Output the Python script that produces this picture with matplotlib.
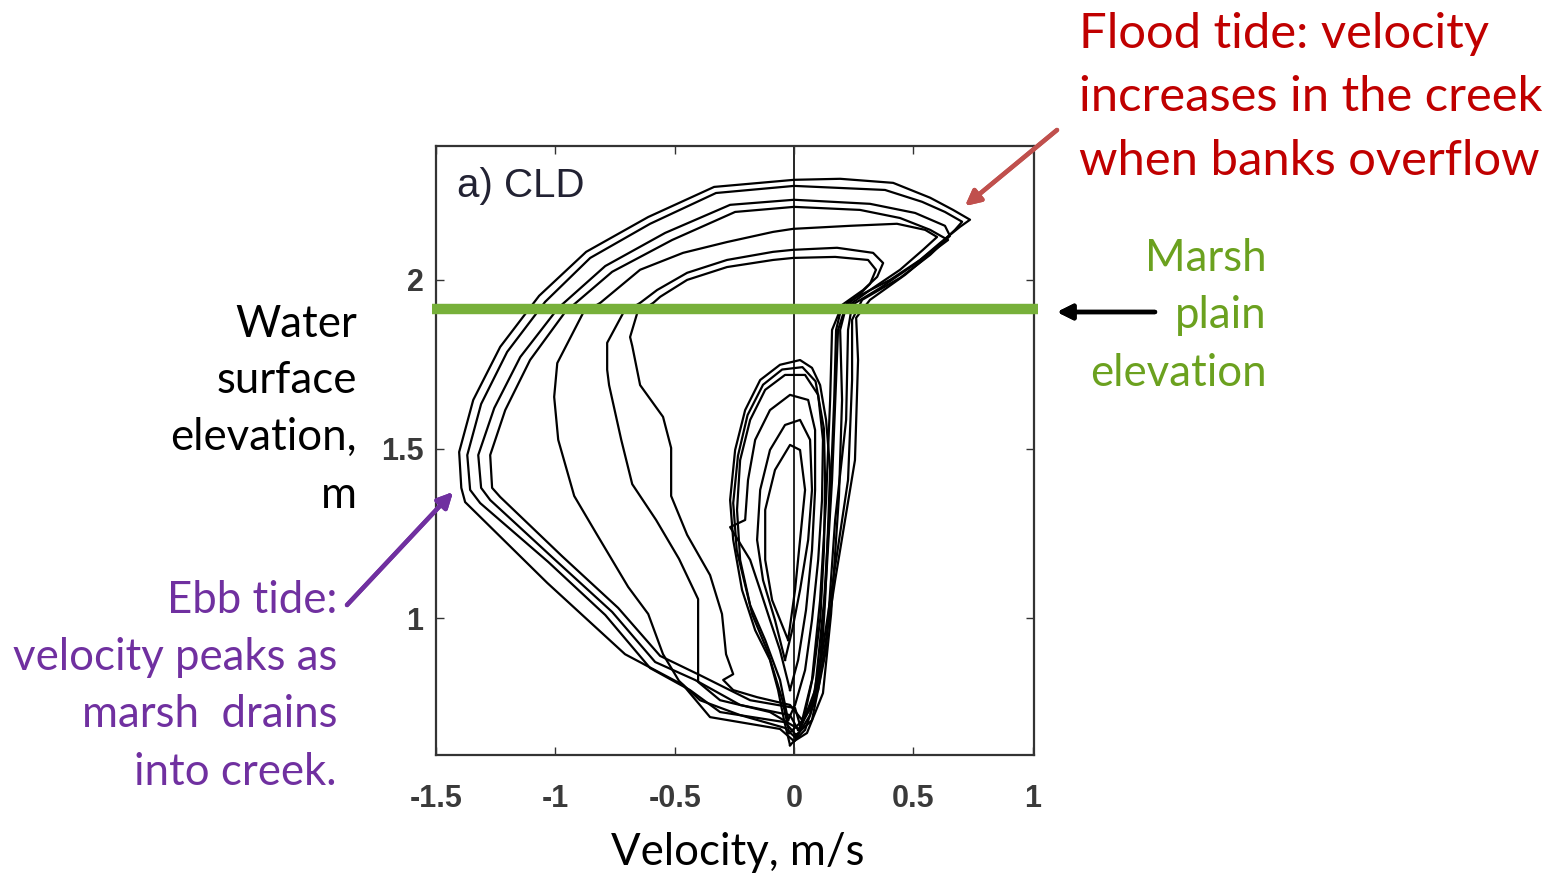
import matplotlib.pyplot as plt

W, H = 1568, 873  # output size in pixels (dpi 100)

X_TICKS = [-1.5, -1, -0.5, 0, 0.5, 1]
X_TICK_LABELS = ["-1.5", "-1", "-0.5", "0", "0.5", "1"]
Y_TICKS = [1, 1.5, 2]
Y_TICK_LABELS = ["1", "1.5", "2"]
MARSH_PLAIN = 1.915  # m, marsh plain elevation

# --- spring tides: big loops that flood the marsh plain --------------------
spring_1_vel = [0, 0.054, 0.121, 0.155, 0.188, 0.201, 0.193, 0.222, 0.264, 0.402,
                0.528, 0.611, 0.695, 0.737, 0.666, 0.570, 0.415, 0.193, 0, -0.335,
                -0.611, -0.871, -1.068, -1.231, -1.344, -1.403, -1.394, -1.378,
                -1.034, -0.708, -0.465, -0.352, -0.059, 0]
spring_1_elev = [0.636, 0.660, 0.778, 1.012, 1.361, 1.645, 1.852, 1.932, 1.950, 2.000,
                 2.059, 2.109, 2.157, 2.178, 2.207, 2.243, 2.287, 2.299, 2.296, 2.275,
                 2.186, 2.083, 1.953, 1.802, 1.645, 1.491, 1.385, 1.343,
                 1.104, 0.893, 0.802, 0.707, 0.672, 0.636]

spring_2_vel = [0.008, 0.075, 0.134, 0.172, 0.218, 0.226, 0.243, 0.360, 0.507, 0.603,
                0.674, 0.704, 0.632, 0.536, 0.381, 0, -0.327, -0.603, -0.854, -1.043,
                -1.202, -1.311, -1.369, -1.357, -1.315, -1.030, -0.791, -0.603,
                -0.436, -0.310, -0.038, 0.008]
spring_2_elev = [0.654, 0.698, 0.905, 1.290, 1.586, 1.852, 1.926, 1.976, 2.047, 2.101,
                 2.148, 2.172, 2.201, 2.231, 2.266, 2.278, 2.257, 2.166, 2.065, 1.935,
                 1.787, 1.633, 1.482, 1.379, 1.340, 1.166, 1.009, 0.852,
                 0.787, 0.722, 0.692, 0.654]

spring_3_vel = [0.017, 0.088, 0.151, 0.226, 0.243, 0.243, 0.285, 0.444, 0.570, 0.653,
                0.632, 0.507, 0.318, 0, -0.268, -0.540, -0.791, -0.988, -1.147,
                -1.256, -1.323, -1.311, -1.273, -1.001, -0.762, -0.582, -0.415,
                -0.226, -0.017, 0.017]
spring_3_elev = [0.669, 0.757, 1.053, 1.408, 1.704, 1.882, 1.941, 2.006, 2.074, 2.130,
                 2.160, 2.198, 2.225, 2.237, 2.222, 2.139, 2.041, 1.917, 1.772,
                 1.621, 1.482, 1.385, 1.349, 1.172, 1.018, 0.870, 0.817,
                 0.743, 0.713, 0.669]

spring_4_vel = [0.025, 0.101, 0.172, 0.255, 0.268, 0.260, 0.318, 0.465, 0.590, 0.645,
                0.570, 0.444, 0.276, 0, -0.247, -0.511, -0.762, -0.959, -1.106,
                -1.210, -1.273, -1.265, -1.231, -0.972, -0.737, -0.561, -0.394,
                -0.184, 0.004, 0.025]
spring_4_elev = [0.683, 0.787, 1.112, 1.467, 1.763, 1.888, 1.941, 2.015, 2.089, 2.118,
                 2.148, 2.183, 2.207, 2.216, 2.201, 2.118, 2.024, 1.905, 1.763,
                 1.615, 1.482, 1.385, 1.358, 1.183, 1.030, 0.888, 0.831,
                 0.757, 0.734, 0.683]

# --- intermediate tides: just above the marsh plain -------------------------
mid_1_vel = [0.008, 0.067, 0.109, 0.134, 0.159, 0.176, 0.184, 0.214, 0.318, 0.444,
             0.540, 0.599, 0.549, 0.431, 0.235, -0.004, -0.088, -0.281, -0.465,
             -0.645, -0.812, -0.884, -0.992, -1.005, -0.988, -0.921, -0.825,
             -0.695, -0.611, -0.549, -0.482, -0.394, -0.226, -0.038, 0.008]
mid_1_elev = [0.645, 0.713, 0.876, 1.112, 1.408, 1.704, 1.852, 1.917, 1.970, 2.030,
              2.089, 2.127, 2.148, 2.166, 2.160, 2.151, 2.142, 2.112, 2.080,
              2.030, 1.932, 1.902, 1.754, 1.654, 1.527, 1.361, 1.246,
              1.092, 1.012, 0.893, 0.814, 0.757, 0.713, 0.675, 0.645]

mid_2_vel = [0.025, 0.088, 0.126, 0.151, 0.168, 0.176, 0.201, 0.289, 0.348, 0.373,
             0.331, 0.180, -0.004, -0.088, -0.281, -0.448, -0.574, -0.645, -0.716,
             -0.783, -0.783, -0.775, -0.724, -0.678, -0.578, -0.482, -0.402,
             -0.402, -0.310, -0.101, 0.025]
mid_2_elev = [0.669, 0.787, 1.053, 1.349, 1.645, 1.852, 1.926, 1.970, 2.009, 2.050,
              2.080, 2.095, 2.089, 2.083, 2.059, 2.021, 1.970, 1.932, 1.902,
              1.814, 1.734, 1.689, 1.527, 1.396, 1.290, 1.175, 1.056,
              0.811, 0.757, 0.722, 0.669]

mid_3_vel = [0.034, 0.075, 0.109, 0.134, 0.151, 0.159, 0.193, 0.268, 0.318, 0.343,
             0.310, 0.172, -0.004, -0.088, -0.281, -0.448, -0.561, -0.590, -0.657,
             -0.687, -0.678, -0.645, -0.549, -0.515, -0.515, -0.448, -0.352,
             -0.302, -0.285, -0.255, -0.297, -0.255, -0.155, -0.017, 0.034]
mid_3_elev = [0.698, 0.817, 1.053, 1.349, 1.645, 1.852, 1.911, 1.953, 1.988, 2.030,
              2.059, 2.068, 2.065, 2.059, 2.038, 2.000, 1.950, 1.932, 1.902,
              1.831, 1.805, 1.689, 1.595, 1.503, 1.361, 1.246, 1.127,
              1.012, 0.893, 0.834, 0.817, 0.787, 0.766, 0.743, 0.698]

# --- neap tides: water stays in the creek ------------------------------------
neap_1_vel = [-0.017, -0.042, -0.067, -0.101, -0.163, -0.218, -0.255, -0.268, -0.247,
              -0.205, -0.142, -0.059, 0.025, 0.075, 0.109, 0.134, 0.151, 0.142,
              0.130, 0.117, 0.088, 0.046, -0.017]
neap_1_elev = [0.624, 0.698, 0.787, 0.876, 0.964, 1.083, 1.231, 1.349, 1.497,
               1.615, 1.704, 1.749, 1.763, 1.740, 1.689, 1.586, 1.438, 1.260,
               1.053, 0.905, 0.757, 0.669, 0.624]

neap_2_vel = [-0.025, -0.059, -0.121, -0.184, -0.226, -0.239, -0.226, -0.184, -0.121,
              -0.038, 0.046, 0.101, 0.121, 0.117, 0.101, 0.075, 0.046, 0.004, -0.025]
neap_2_elev = [0.698, 0.817, 0.935, 1.038, 1.172, 1.320, 1.467, 1.586, 1.675,
               1.719, 1.719, 1.660, 1.527, 1.349, 1.172, 0.994, 0.846, 0.743, 0.698]

neap_3_vel = [-0.017, -0.059, -0.101, -0.142, -0.184, -0.268, -0.205, -0.193, -0.163,
              -0.101, -0.017, 0.059, 0.088, 0.088, 0.075, 0.050, 0.017, -0.017]
neap_3_elev = [0.787, 0.905, 0.994, 1.083, 1.172, 1.269, 1.290, 1.408, 1.527,
               1.615, 1.660, 1.645, 1.556, 1.379, 1.201, 1.024, 0.876, 0.787]

neap_4_vel = [-0.038, -0.080, -0.130, -0.155, -0.142, -0.101, -0.038, 0.025, 0.067,
              0.075, 0.059, 0.025, -0.008, -0.038]
neap_4_elev = [0.876, 0.994, 1.112, 1.231, 1.379, 1.497, 1.571, 1.586, 1.527,
               1.379, 1.231, 1.083, 0.964, 0.876]

neap_5_vel = [-0.025, -0.092, -0.121, -0.121, -0.080, -0.017, 0.025, 0.046, 0.025,
              0.004, -0.025]
neap_5_elev = [0.935, 1.053, 1.172, 1.320, 1.438, 1.512, 1.497, 1.379, 1.231,
               1.083, 0.935]

neap_6_vel = [-0.020, -0.050, -0.110, -0.175, -0.240, -0.255, -0.235, -0.195, -0.130,
              -0.050, 0.035, 0.090, 0.125, 0.130, 0.125, 0.110, 0.080, 0.040, -0.020]
neap_6_elev = [0.660, 0.760, 0.900, 1.010, 1.200, 1.340, 1.480, 1.600, 1.690,
               1.735, 1.742, 1.700, 1.560, 1.400, 1.200, 1.000, 0.830, 0.700, 0.660]

LOOPS = [
    (spring_1_vel, spring_1_elev), (spring_2_vel, spring_2_elev),
    (spring_3_vel, spring_3_elev), (spring_4_vel, spring_4_elev),
    (mid_1_vel, mid_1_elev), (mid_2_vel, mid_2_elev), (mid_3_vel, mid_3_elev),
    (neap_1_vel, neap_1_elev), (neap_2_vel, neap_2_elev), (neap_3_vel, neap_3_elev),
    (neap_4_vel, neap_4_elev), (neap_5_vel, neap_5_elev), (neap_6_vel, neap_6_elev),
]

RED = "#C00000"
RED_ARROW = "#C0504D"
GREEN_TEXT = "#6BA11F"
GREEN_LINE = "#77B03A"
PURPLE = "#7030A0"
FONT = ["Lato", "DejaVu Sans"]
SANS = ["Liberation Sans", "DejaVu Sans"]


def fxy(px, py):
    """pixel position in the 1568x873 canvas -> figure fraction"""
    return px / W, 1 - py / H


def lines_of_text(fig, lines, x, baselines, ha, color, size):
    for text, y in zip(lines, baselines):
        fig.text(*fxy(x, y), text, ha=ha, va="baseline", color=color,
                 fontsize=size, family=FONT)


def arrow(fig, start, end, color):
    fig.add_artist(plt.annotate(
        "", xy=fxy(*end), xytext=fxy(*start), xycoords="figure fraction",
        textcoords="figure fraction",
        arrowprops=dict(arrowstyle="-|>,head_length=0.9,head_width=0.45",
                        color=color, lw=3.2, shrinkA=0, shrinkB=0)))


fig = plt.figure(figsize=(W / 100, H / 100), dpi=100)
ax = fig.add_axes([436 / W, 1 - 755 / H, 598 / W, 609 / H])
ax.set_xlim(-1.5, 1.005)
ax.set_ylim(0.595, 2.396)

for vel, elev in LOOPS:
    ax.plot(vel, elev, color="black", lw=1.6, zorder=2)
ax.axvline(0, color="black", lw=1.2, zorder=1)

x0, x1 = ax.get_xlim()
ax.plot([x0 - 0.016, x1 + 0.017], [MARSH_PLAIN, MARSH_PLAIN], color=GREEN_LINE,
        lw=7.5, solid_capstyle="butt", clip_on=False, zorder=5)

ax.set_xticks(X_TICKS, X_TICK_LABELS)
ax.set_yticks(Y_TICKS, Y_TICK_LABELS)
ax.tick_params(direction="in", length=5.5, width=1.0, color="#333333",
               top=True, right=True, labelsize=22, labelcolor="#3a3a3a")
ax.tick_params(axis="x", pad=21)
ax.tick_params(axis="y", pad=9)
for lab in ax.get_xticklabels() + ax.get_yticklabels():
    lab.set_family(SANS)
    lab.set_fontweight("bold")
for sp in ax.spines.values():
    sp.set_color("#333333")
    sp.set_linewidth(1.6)

ax.text(0.035, 0.916, "a) CLD", transform=ax.transAxes, va="baseline",
        fontsize=29, color="#222233", family=SANS)

# --- annotations around the plot --------------------------------------------
lines_of_text(fig, ["Flood tide: velocity", "increases in the creek",
                    "when banks overflow"], 1079, [48, 111, 175], "left", RED, 35.3)
lines_of_text(fig, ["Marsh", "plain", "elevation"], 1267, [271, 328, 386],
              "right", GREEN_TEXT, 31.5)
lines_of_text(fig, ["Water", "surface", "elevation,", "m"], 357,
              [337, 393, 450, 508], "right", "black", 31.5)
lines_of_text(fig, ["Ebb tide:", "velocity peaks as", "marsh  drains",
                    "into creek."], 337, [613, 670, 727, 785], "right", PURPLE, 31.5)
fig.text(*fxy(738, 865), "Velocity, m/s", ha="center", va="baseline",
         fontsize=31.5, family=FONT, color="black")

arrow(fig, (1057, 130), (965, 206), RED_ARROW)
arrow(fig, (1155, 312), (1057, 312), "black")
arrow(fig, (347, 605), (453, 492), PURPLE)

fig.savefig("out.png", dpi=100)
